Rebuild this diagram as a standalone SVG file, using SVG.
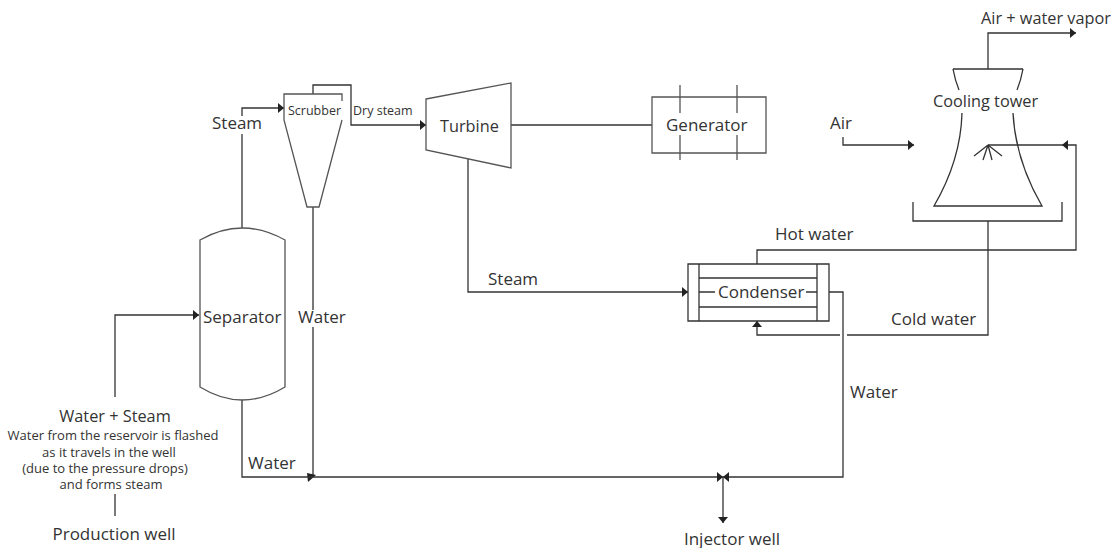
<svg xmlns="http://www.w3.org/2000/svg" width="1112" height="548" viewBox="0 0 1112 548">
<style>
.l{fill:none;stroke:#333;stroke-width:1.3}
.g{fill:none;stroke:#555;stroke-width:1.3}
.t{font-family:"Open Sans",sans-serif;font-size:17px;fill:#333}
.b{font-family:"Open Sans",sans-serif;font-size:16.3px;fill:#333}
.s{font-family:"Open Sans",sans-serif;font-size:12.5px;fill:#333}
.m{font-family:"Open Sans",sans-serif;font-size:13px;fill:#333}
</style>
<defs>
<marker id="a" markerUnits="userSpaceOnUse" markerWidth="7" markerHeight="10" refX="6" refY="5" orient="auto"><path d="M0 0L6 5L0 10Z" fill="#222"/></marker>
</defs>
<rect width="1112" height="548" fill="#fff"/>
<g id="connectors">
<path class="l" d="M242 228V134M242 116V108H284" marker-end="url(#a)"/>
<path class="l" d="M313 94V85H351V125H426" marker-end="url(#a)"/>
<path class="l" d="M313 207V310M313 327V477"/>
<path d="M307 473L316 475L308 482Z" fill="#222"/>
<path class="l" d="M115 397V315H199" marker-end="url(#a)"/>
<path class="l" d="M115 494V516"/>
<path class="l" d="M242 400V477H723" marker-end="url(#a)"/>
<path class="l" d="M829 292H843V477H723" marker-end="url(#a)"/>
<path class="l" d="M723 477V523" marker-end="url(#a)"/>
<path class="l" d="M511 125H652"/>
<path class="l" d="M468 159V292H688" marker-end="url(#a)"/>
<path class="l" d="M757 264V250H1076V145H1062" marker-end="url(#a)"/>
<path class="l" d="M1062 145H988"/>
<path class="l" d="M988 221V335H847M840 335H757V321" marker-end="url(#a)"/>
<path class="l" d="M988 69V33H1076" marker-end="url(#a)"/>
<path class="l" d="M843 137V145H914" marker-end="url(#a)"/>
</g>
<g id="separator">
<path class="g" d="M200 240Q242 216 285 240V387Q242 413 200 387Z"/>
<text class="t" x="203" y="323">Separator</text>
</g>
<g id="scrubber">
<path class="g" d="M342 101V94H284V120L307 207H319L342 120"/>
<text class="s" x="288" y="115">Scrubber</text>
</g>
<g id="turbine">
<path class="g" d="M426 99L511 83V168L426 150Z"/>
<text class="b" x="440" y="132">Turbine</text>
</g>
<g id="generator">
<path class="g" d="M652 97H766V153H652Z"/>
<path class="g" d="M680 85V113M737 85V113M680 135V160M737 135V160"/>
<text class="t" x="666" y="131">Generator</text>
</g>
<g id="condenser">
<path class="l" d="M688 264H829V321H688ZM699 264V321M817 264V321M699 278H817M699 307H817M699 292H715M806 292H817"/>
<text class="t" x="718" y="298">Condenser</text>
</g>
<g id="cooling-tower">
<path class="l" d="M953 69H1023M953 69Q955 80 959 90M1023 69Q1021 80 1017 90"/>
<path class="l" d="M962 113C961 150 948 182 934 206H1042C1028 182 1015 150 1013 113"/>
<path class="l" d="M913 202V221H1062V202"/>
<path class="l" d="M988 145L974 156M988 145L983 160M988 145L992 160M988 145L1002 156"/>
<text class="b" x="933" y="107">Cooling tower</text>
</g>
<g id="labels">
<text class="s" x="353" y="115">Dry steam</text>
<text class="t" x="212" y="129">Steam</text>
<text class="t" x="298" y="323">Water</text>
<text class="t" x="488" y="285">Steam</text>
<text class="t" x="775" y="240">Hot water</text>
<text class="t" x="891" y="325">Cold water</text>
<text class="t" x="850" y="398">Water</text>
<text class="t" x="248" y="469">Water</text>
<text class="t" x="830" y="129">Air</text>
<text class="b" x="981" y="24">Air + water vapor</text>
<text class="b" x="115" y="422" text-anchor="middle">Water + Steam</text>
<text class="m" x="113" y="440" text-anchor="middle">Water from the reservoir is flashed</text>
<text class="m" x="109" y="457" text-anchor="middle">as it travels in the well</text>
<text class="m" x="105" y="473" text-anchor="middle">(due to the pressure drops)</text>
<text class="m" x="111" y="489" text-anchor="middle">and forms steam</text>
<text class="t" x="114" y="540" text-anchor="middle">Production well</text>
<text class="t" x="732" y="545" text-anchor="middle">Injector well</text>
</g>
</svg>
